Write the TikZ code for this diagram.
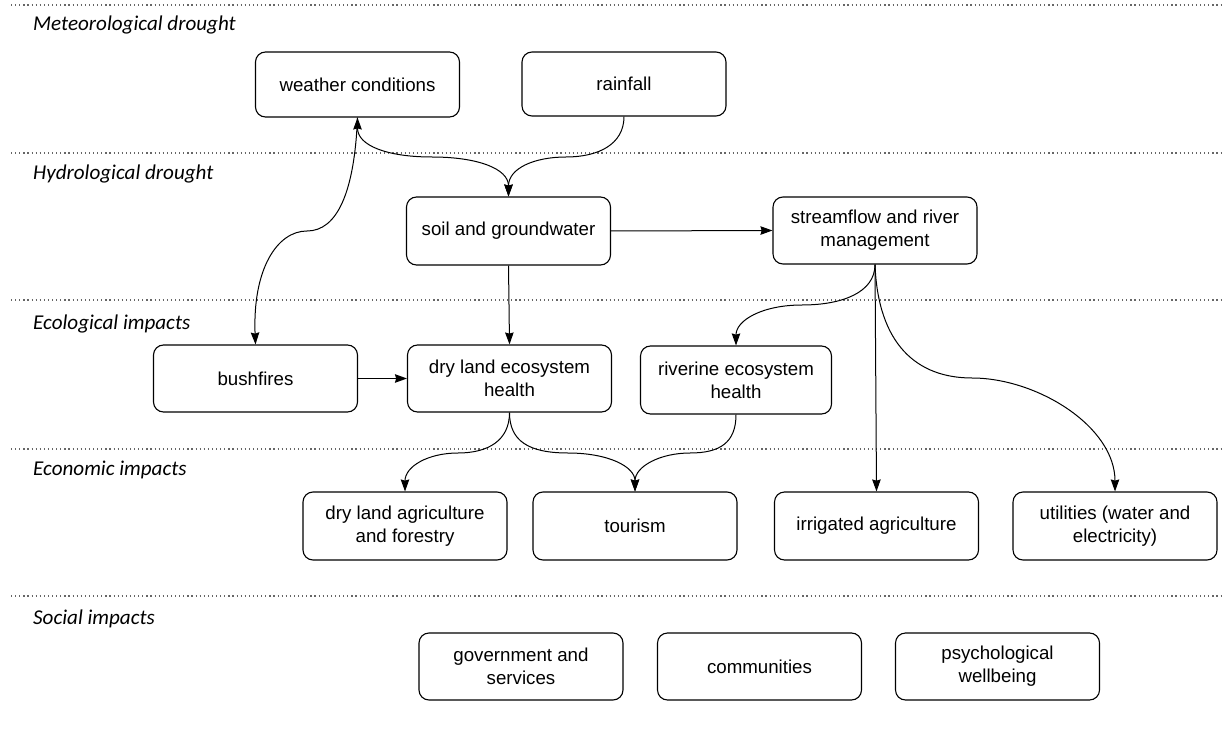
\documentclass[tikz,border=0pt]{standalone}
\usepackage{fontspec}
\setmainfont{Liberation Sans}
\newfontfamily\labelfont{Carlito}
\usetikzlibrary{arrows.meta}
\tikzset{
  tip/.tip={Stealth[length=12pt,width=8.5pt,inset=1.2pt]},
  box/.style={draw, line width=1.1pt, rounded corners=10pt, minimum width=204pt, minimum height=67pt,
    inner sep=0pt, align=center, font=\fontsize{18.7}{23}\selectfont},
  arr/.style={-tip, line width=1pt},
  darr/.style={tip-tip, line width=1pt},
  sep/.style={draw=black!60, line width=1.3pt, dash pattern=on 1.2pt off 2.9pt},
  lab/.style={anchor=base west, inner sep=0pt, font=\labelfont\itshape\fontsize{21.1}{25}\selectfont}
}
\begin{document}
\begin{tikzpicture}[x=1pt,y=-1pt]
\useasboundingbox (0,0) rectangle (1225,743);
% separators
\foreach \yy/\n in {5/a,153/b,300/c,449/d,596/e}{
  \coordinate (sl\n) at (11,\yy);
  \coordinate (sr\n) at (1222,\yy);
  \draw[sep] (sl\n) -- (sr\n);
}
% labels
\node[lab] (l1) at (33,31) {Meteorological drought};
\node[lab] (l2) at (33,180) {Hydrological drought};
\node[lab] (l3) at (33,329) {Ecological impacts};
\node[lab] (l4) at (33,475) {Economic impacts};
\node[lab] (l5) at (33,624) {Social impacts};
% nodes
\node[box, minimum height=65pt] (wc) at (357.5,84.5) {weather conditions};
\node[box, minimum height=64pt] (rain) at (624,84) {rainfall};
\node[box, minimum height=68pt] (soil) at (508.5,231) {soil and groundwater};
\node[box] (stream) at (875,230.5) {streamflow and river\\management};
\node[box] (bush) at (255.5,378.5) {bushfires};
\node[box] (dry) at (509.5,378.5) {dry land ecosystem\\health};
\node[box, minimum width=191pt, minimum height=68pt] (riv) at (736,380) {riverine ecosystem\\health};
\node[box, minimum height=68pt] (dla) at (405,526) {dry land agriculture\\and forestry};
\node[box, minimum height=68pt] (tour) at (635,526) {tourism};
\node[box, minimum height=68pt] (irr) at (876.5,526) {irrigated agriculture};
\node[box, minimum height=68pt] (util) at (1115,526) {utilities (water and\\electricity)};
\node[box] (gov) at (521,666.5) {government and\\services};
\node[box] (comm) at (759.5,666.5) {communities};
\node[box] (psy) at (997.5,666.5) {psychological\\wellbeing};
% connectors
\coordinate (m1) at (432,157);
\coordinate (m2) at (566,157);
\coordinate (m3) at (307,231);
\coordinate (m4) at (802,305);
\coordinate (m5) at (972,378);
\coordinate (m6) at (458,453);
\coordinate (m7) at (568,453);
\coordinate (m8) at (690,453);
\draw[darr] (wc.south) .. controls +(0,28) and +(-45,0) .. (m1) .. controls +(45,0) and +(0,-28) .. (soil.north);
\draw[arr] (rain.south) .. controls +(0,28) and +(32,0) .. (m2) .. controls +(-32,0) and +(0,-28) .. (soil.north);
\draw[arr] (wc.south) .. controls +(-3,75) and +(30,0) .. (m3) .. controls +(-30,0) and +(-3,-75) .. (bush.north);
\draw[arr] (soil.south) -- (dry.north);
\draw[arr] (soil.east) -- (stream.west);
\draw[arr] (bush.east) -- (dry.west);
\draw[arr] (stream.south) .. controls +(0,28) and +(40,0) .. (m4) .. controls +(-40,0) and +(0,-25) .. (riv.north);
\draw[arr] (stream.south) -- (irr.north);
\draw[arr] (stream.south) .. controls +(3,80) and +(-55,0) .. (m5) .. controls +(65,0) and +(0,-65) .. (util.north);
\draw[arr] (dry.south) .. controls +(0,28) and +(30,0) .. (m6) .. controls +(-30,0) and +(0,-25) .. (dla.north);
\draw[arr] (dry.south) .. controls +(0,28) and +(-40,0) .. (m7) .. controls +(40,0) and +(0,-25) .. (tour.north);
\draw[arr] (riv.south) .. controls +(0,28) and +(30,0) .. (m8) .. controls +(-30,0) and +(0,-25) .. (tour.north);
\end{tikzpicture}
\end{document}
